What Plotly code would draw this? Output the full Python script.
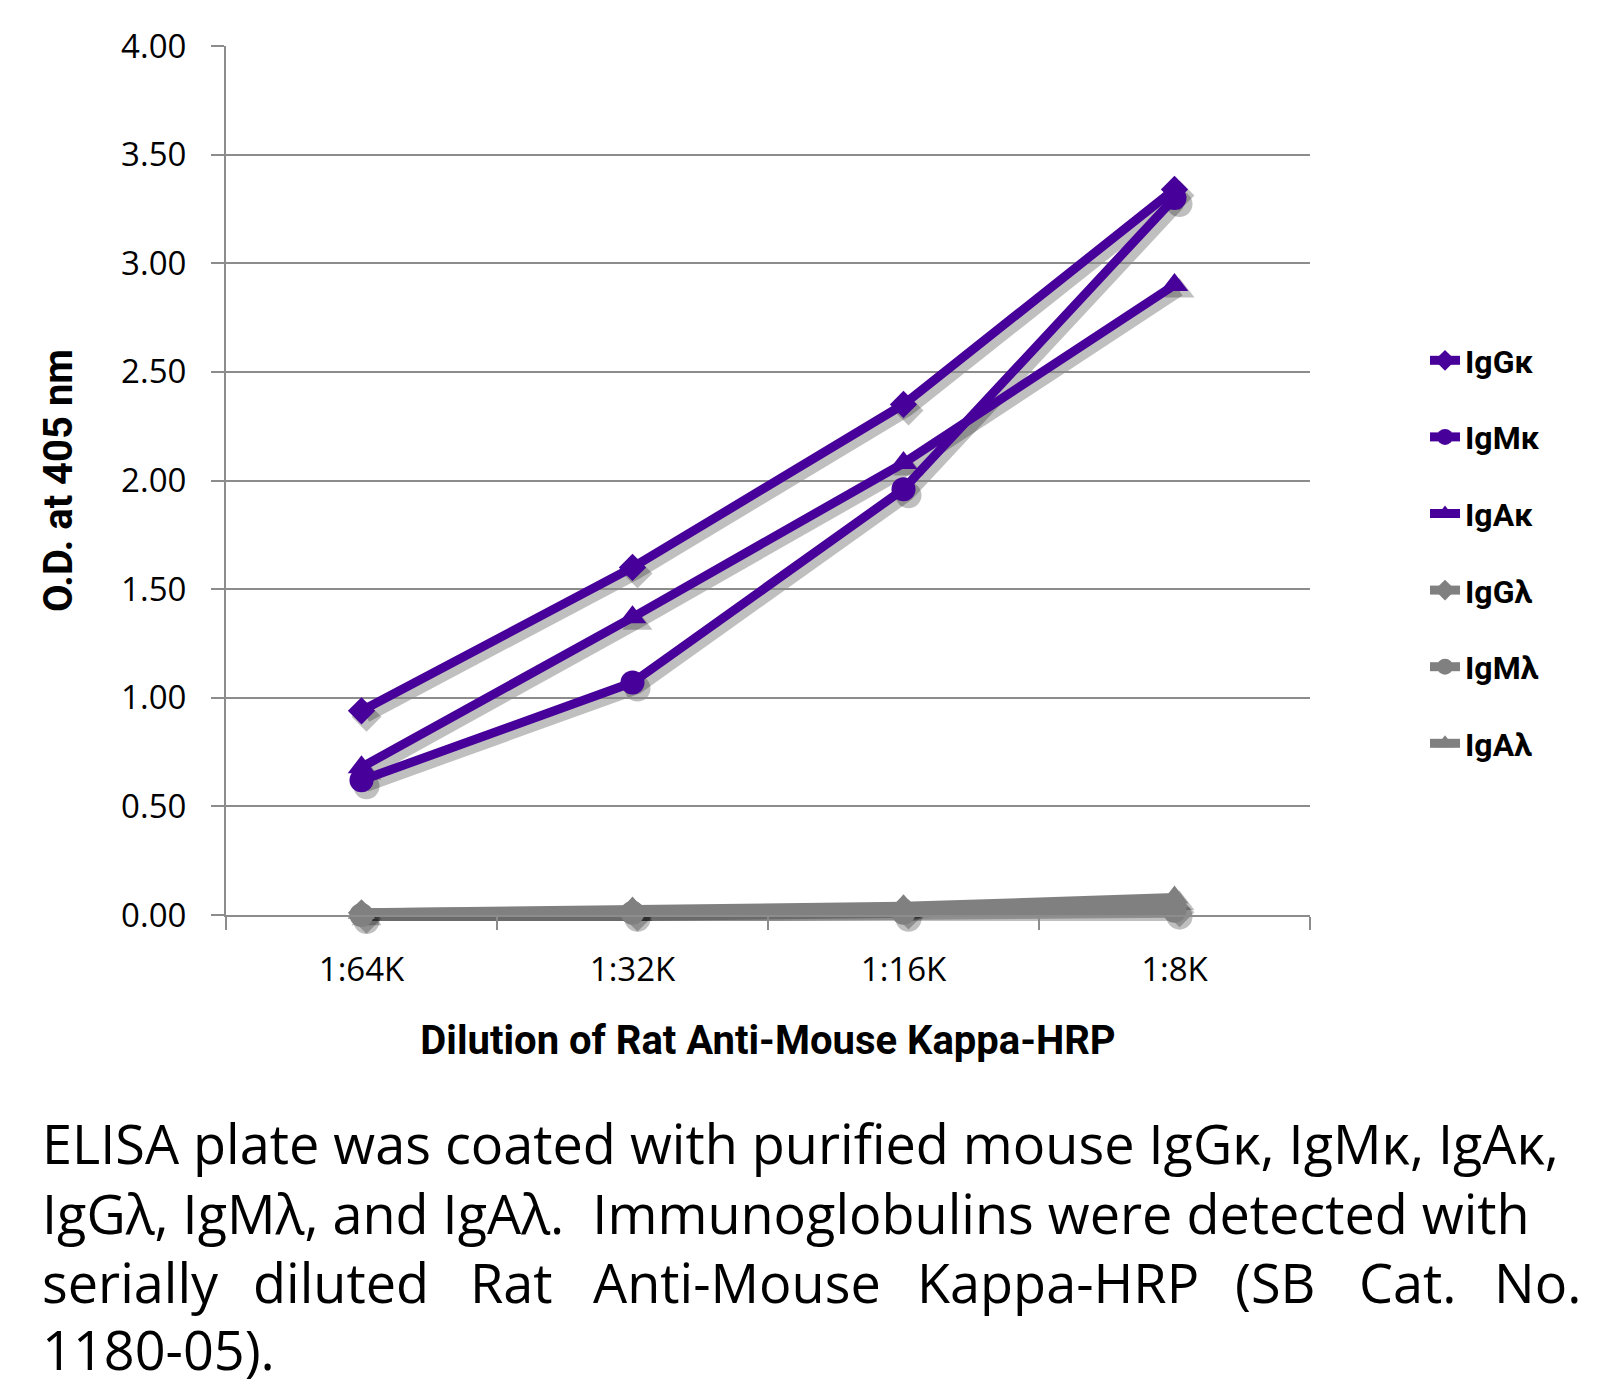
import plotly.graph_objects as go

# ---------------- data ----------------
dilutions = ["1:64K", "1:32K", "1:16K", "1:8K"]
igg_kappa = [0.94, 1.60, 2.35, 3.34]
igm_kappa = [0.62, 1.07, 1.96, 3.30]
iga_kappa = [0.68, 1.37, 2.08, 2.90]
igg_lambda = [0.01, 0.02, 0.03, 0.04]
igm_lambda = [0.00, 0.01, 0.01, 0.02]
iga_lambda = [0.01, 0.03, 0.04, 0.08]
series_names = ["IgGκ", "IgMκ", "IgAκ", "IgGλ", "IgMλ", "IgAλ"]
y_tick_vals = [0.0, 0.5, 1.0, 1.5, 2.0, 2.5, 3.0, 3.5, 4.0]
y_tick_text = ["0.00", "0.50", "1.00", "1.50", "2.00", "2.50", "3.00", "3.50", "4.00"]

caption_line1 = "ELISA plate was coated with purified mouse IgGκ, IgMκ, IgAκ,"
caption_line2 = "IgGλ, IgMλ, and IgAλ.  Immunoglobulins were detected with"
caption_line3_words = ["serially", "diluted", "Rat", "Anti-Mouse", "Kappa-HRP", "(SB", "Cat.", "No."]
caption_line4 = "1180-05)."

# ---------------- styles ----------------
PURPLE = "#470099"
GRAY = "#808080"
SHADOW = "rgba(0,0,0,0.25)"
AXIS_GRAY = "#8c8c8c"

series_values = [igg_kappa, igm_kappa, iga_kappa, igg_lambda, igm_lambda, iga_lambda]
series_colors = [PURPLE, PURPLE, PURPLE, GRAY, GRAY, GRAY]
series_symbols = ["diamond", "circle", "triangle-up", "diamond", "circle", "triangle-up"]
series_sizes = [21, 24, 24, 21, 24, 24]

# page has an 8px body margin: the figure is placed at (8, 8)
OFF = 8
W, H = 1601 - OFF, 1387 - OFF
PLOT_L, PLOT_T = 226, 46          # page coords of plot area top-left
REAL_W, REAL_H = 1084, 869         # plot area size in px
SDX, SDY = 5, 6                    # shadow offset
ML, MT = PLOT_L - OFF, PLOT_T - OFF
PW, PH = REAL_W + 12, REAL_H + 12
MR, MB = W - ML - PW, H - MT - PH


def px_x(px):
    """page x pixel -> paper coordinate"""
    return (px - OFF - ML) / PW


def px_y(py):
    """page y pixel -> paper coordinate"""
    return (MT + PH - (py - OFF)) / PH


fig = go.Figure()

# shadow traces (drawn first, on an offset subplot)
for name, vals, sym, size in zip(series_names, series_values, series_symbols, series_sizes):
    fig.add_trace(go.Scatter(
        x=dilutions, y=vals, mode="lines+markers", name=name,
        line=dict(color=SHADOW, width=11),
        marker=dict(symbol=sym, size=size + 2, color=SHADOW),
        xaxis="x", yaxis="y", showlegend=False, hoverinfo="skip", cliponaxis=False,
    ))

# real traces
for i, (name, vals, col, sym, size) in enumerate(zip(series_names, series_values, series_colors,
                                                      series_symbols, series_sizes)):
    fig.add_trace(go.Scatter(
        x=dilutions, y=vals, mode="lines+markers", name=name,
        line=dict(color=col, width=9),
        marker=dict(symbol=sym, size=size, color=col),
        xaxis="x2", yaxis="y2", legendgroup=f"g{i}", cliponaxis=False,
    ))

tick_font = dict(family="Open Sans", size=33, color="#000000")
title_font = dict(family="Roboto", size=40, color="#000000", weight="bold")

cap_font = dict(family="Open Sans", size=54, color="#000000")
annotations = [
    dict(text=caption_line1, x=px_x(41), y=px_y(1143)),
    dict(text=caption_line2, x=px_x(41), y=px_y(1213)),
    dict(text=caption_line4, x=px_x(41), y=px_y(1349)),
]
line3_left_px = [41, 252, 469, 592, 916, 1234, 1358, 1493]
for word, lx in zip(caption_line3_words, line3_left_px):
    annotations.append(dict(text=word, x=px_x(lx), y=px_y(1282)))
for a in annotations:
    a.update(xref="paper", yref="paper", xanchor="left", yanchor="middle", showarrow=False,
             font=cap_font, borderpad=0)

fig.update_layout(
    width=W, height=H,
    margin=dict(l=ML, r=MR, t=MT, b=MB, autoexpand=False),
    paper_bgcolor="#ffffff",
    plot_bgcolor="rgba(0,0,0,0)",
    xaxis=dict(domain=[SDX / PW, (REAL_W + SDX) / PW], anchor="y", type="category",
               categoryorder="array", categoryarray=dilutions, range=[-0.5, 3.5],
               visible=False, fixedrange=True),
    yaxis=dict(domain=[(PH - REAL_H - SDY) / PH, (PH - SDY) / PH], anchor="x", range=[0, 4],
               visible=False, fixedrange=True),
    xaxis2=dict(domain=[0, REAL_W / PW], anchor="y2", type="category",
                categoryorder="array", categoryarray=dilutions, range=[-0.5, 3.5],
                showline=True, linecolor=AXIS_GRAY, linewidth=2,
                ticks="outside", tickson="boundaries", ticklen=13, tickwidth=2, tickcolor=AXIS_GRAY,
                showgrid=False, tickfont=tick_font, ticklabelstandoff=24,
                title=dict(text="Dilution of Rat Anti-Mouse Kappa-HRP", font=title_font, standoff=36),
                automargin=False),
    yaxis2=dict(domain=[(PH - REAL_H) / PH, 1], anchor="x2", range=[0, 4],
                tickvals=y_tick_vals, ticktext=y_tick_text,
                showline=True, linecolor=AXIS_GRAY, linewidth=2,
                ticks="outside", ticklen=13, tickwidth=2, tickcolor=AXIS_GRAY,
                showgrid=True, gridcolor=AXIS_GRAY, gridwidth=2, zeroline=False,
                tickfont=tick_font, ticklabelstandoff=18,
                title=dict(text="O.D. at 405 nm", font=title_font, standoff=36),
                automargin=False),
    legend=dict(x=px_x(1425), y=px_y(333), xanchor="left", yanchor="top",
                font=dict(family="Roboto", size=32, color="#000000", weight="bold"),
                tracegroupgap=32, bgcolor="rgba(0,0,0,0)"),
    annotations=annotations,
    showlegend=True,
)

fig.write_html("out.html")
